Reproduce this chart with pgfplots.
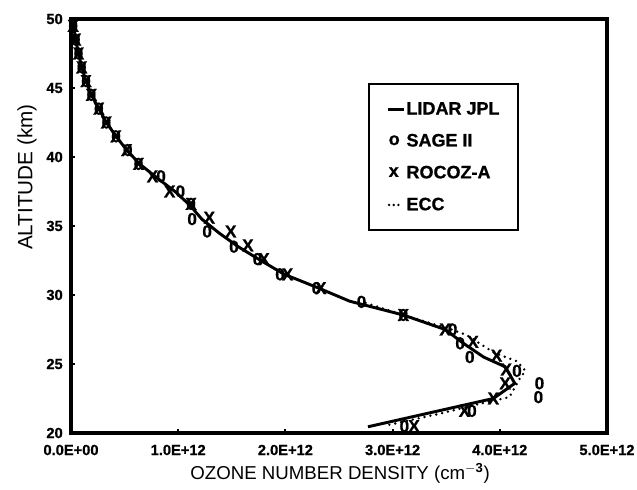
\documentclass[border=0pt]{standalone}
\usepackage{pgfplots}
\pgfplotsset{compat=1.18}
\usepackage{fontspec}
\setmainfont{Liberation Sans}
\newfontfamily\heavyfont[BoldFeatures={FakeBold=0.8}]{Liberation Sans}
\newcommand{\mkfont}{\fontsize{13}{13}\selectfont\heavyfont\bfseries}
\newcommand{\lgfont}{\fontsize{13.5}{13.5}\selectfont\heavyfont\bfseries}
\begin{document}
\begin{tikzpicture}
\begin{axis}[
  scale only axis, width=402pt, height=310.5pt,
  xmin=0, xmax=5, ymin=20, ymax=50,
  xtick={0,1,2,3,4,5},
  xticklabels={0.0E+00,1.0E+12,2.0E+12,3.0E+12,4.0E+12,5.0E+12},
  ytick={20,25,30,35,40,45,50},
  yticklabels={20,25,30,35,40,45,50},
  tick align=inside, xtick pos=left, ytick pos=left,
  major tick length=3pt,
  every tick/.style={black, line width=1.5pt},
  axis line style={line width=2.6pt},
  ticklabel style={font=\fontsize{11}{11}\selectfont\heavyfont\bfseries},
  xticklabel style={inner sep=0pt, anchor=center, yshift=-12.75pt},
  yticklabel style={inner sep=0pt, anchor=east, xshift=-6pt},
  xlabel={OZONE NUMBER DENSITY (cm$^{\mathbf{-3}}$)},
  ylabel={ALTITUDE (km)},
  every axis x label/.style={at={(axis description cs:0.502,0)}, anchor=center, yshift=-30pt, font=\fontsize{14}{14}\selectfont},
  every axis y label/.style={at={(axis description cs:-0.082,0.618)}, anchor=center, rotate=90, font=\fontsize{15.5}{15.5}\selectfont},
  legend style={at={(0.554,0.845)}, anchor=north west, draw=black, line width=1.5pt,
    font=\lgfont, inner xsep=13pt, inner ysep=12.5pt, row sep=11pt,
    nodes={inner sep=1pt}},
  legend cell align=left,
  text mark as node=true,
]
\addplot[black, line width=2.2pt, mark=none,
  legend image code/.code={\draw[line width=2.2pt] (0pt,0pt) -- (12pt,0pt);}]
coordinates {
(0.02,50) (0.025,49.5) (0.044,48.5) (0.07,47.5) (0.10,46.5) (0.14,45.5)
(0.19,44.5) (0.26,43.5) (0.33,42.5) (0.42,41.5) (0.52,40.5) (0.64,39.5)
(0.80,38.5) (0.97,37.5) (1.11,36.5) (1.22,35.5) (1.38,34.5) (1.56,33.5)
(1.77,32.5) (1.99,31.5) (2.31,30.5) (2.60,29.55) (3.10,28.55) (3.49,27.5)
(3.66,26.5) (3.85,25.5) (4.05,24.8) (4.14,23.6) (3.94,22.5) (2.77,20.45)
};
\addlegendentry{LIDAR JPL}
\addplot[black, only marks, mark=text, text mark={0},
  text mark style={font=\mkfont, inner sep=0pt, anchor=center},
  legend image code/.code={\node[font=\lgfont, inner sep=0pt, anchor=west] at (0pt,0pt) {o};}]
coordinates {
(0.02,49.5) (0.044,48.5) (0.07,47.5) (0.10,46.5) (0.14,45.5) (0.19,44.5)
(0.26,43.5) (0.33,42.5) (0.42,41.5) (0.53,40.5) (0.63,39.5) (0.84,38.6)
(1.02,37.5) (1.12,36.6) (1.13,35.5) (1.27,34.6) (1.52,33.5) (1.74,32.6)
(1.95,31.5) (2.29,30.5) (2.71,29.5) (3.10,28.55) (3.56,27.5) (3.63,26.5)
(3.72,25.5) (4.16,24.5) (4.37,23.6) (4.36,22.6) (3.74,21.6) (3.11,20.5)
};
\addlegendentry{SAGE II}
\addplot[black, only marks, mark=text, text mark={X},
  text mark style={font=\mkfont, inner sep=0pt, anchor=center},
  legend image code/.code={\node[font=\lgfont, inner sep=0pt, anchor=west] at (0pt,0pt) {x};}]
coordinates {
(0.02,49.5) (0.044,48.5) (0.07,47.5) (0.10,46.5) (0.14,45.5) (0.19,44.5)
(0.26,43.5) (0.33,42.5) (0.42,41.5) (0.52,40.5) (0.63,39.5) (0.76,38.6)
(0.92,37.5) (1.12,36.6) (1.29,35.6) (1.49,34.6) (1.65,33.6) (1.80,32.6)
(2.02,31.5) (2.33,30.5) (3.10,28.55) (3.49,27.5) (3.75,26.6) (3.97,25.6)
(4.06,24.6) (4.05,23.6) (3.94,22.5) (3.67,21.6) (3.20,20.5)
};
\addlegendentry{ROCOZ-A}
\addplot[black, line width=2pt, line cap=round, dash pattern=on 0pt off 4.5pt, mark=none,
  legend image code/.code={\draw[line width=2pt, line cap=round, dash pattern=on 0pt off 3.5pt] (1pt,0pt) -- (10pt,0pt);}]
coordinates {
(2.97,20.6) (3.44,21.4) (3.75,22.0) (4.09,22.6) (4.14,23.3) (4.19,24.0)
(4.24,24.5) (4.16,25.2) (3.95,25.8) (3.81,26.5) (3.69,27.1) (3.55,27.5)
(3.12,28.5) (2.72,29.5)
};
\addlegendentry{ECC}
\end{axis}
\pgfresetboundingbox
\path[use as bounding box] (-53.25pt,-42.75pt) rectangle (424.5pt,324.75pt);
\end{tikzpicture}
\end{document}
